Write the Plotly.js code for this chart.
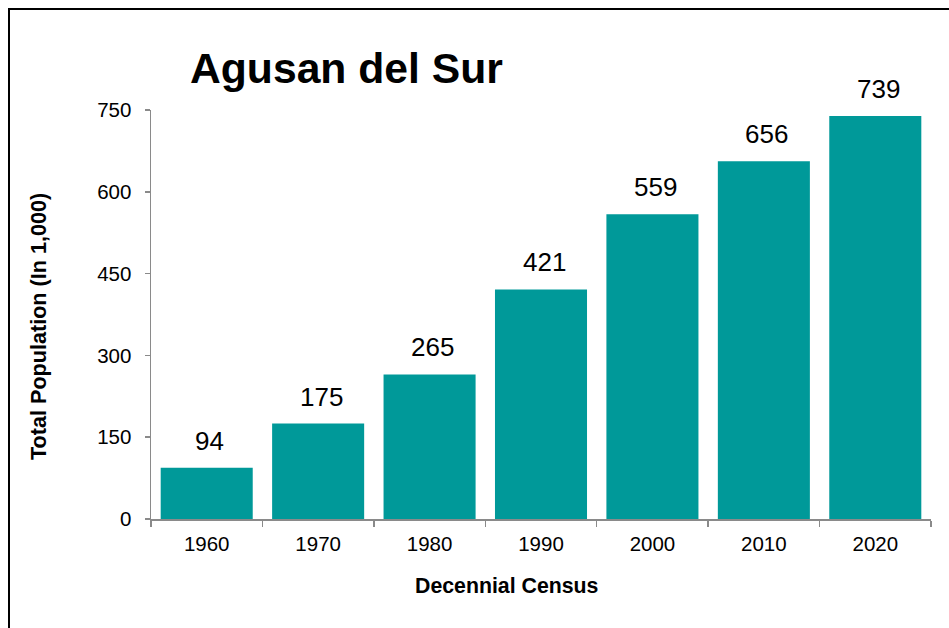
<!DOCTYPE html>
<html>
<head>
<meta charset="utf-8">
<script src="https://cdn.plot.ly/plotly-3.0.1.min.js"></script>
<style>
  html, body { margin: 0; padding: 0; background: #ffffff; }
  #wrap { position: relative; width: 949px; height: 628px; overflow: hidden; }
  #chart { position: absolute; left: 0; top: 0; width: 949px; height: 628px; }
  #frame { position: absolute; left: 8px; top: 8px; width: 1000px; height: 700px;
           border-left: 2px solid #000; border-top: 2px solid #000; pointer-events: none; }
</style>
</head>
<body>
<div id="wrap">
  <div id="chart"></div>
  <div id="frame"></div>
</div>
<script>
const chartTitle = "Agusan del Sur";
const years = ["1960", "1970", "1980", "1990", "2000", "2010", "2020"];
const population = [94, 175, 265, 421, 559, 656, 739];
const yTicks = [0, 150, 300, 450, 600, 750];
const xTitle = "Decennial Census";
const yTitle = "Total Population (In 1,000)";

const FONT = "Liberation Sans, Arial, sans-serif";
const teal = "#009999";
const axisGray = "#8a8a8a";

const trace = {
  type: "bar",
  x: years,
  y: population,
  marker: { color: teal, line: { width: 0 } },
  hoverinfo: "x+y"
};

const labels = years.map((yr, i) => ({
  x: i, y: population[i], xref: "x", yref: "y",
  text: String(population[i]),
  showarrow: false, yanchor: "bottom", yshift: 10, xshift: 3,
  font: { family: FONT, size: 26, color: "#000" }
}));

// axis titles placed as annotations (the original is not centred on the plot area)
const axisTitles = [
  {
    text: xTitle, xref: "paper", yref: "paper",
    x: (506 - 151) / 780, y: -(586 - 519) / 409,
    xanchor: "center", yanchor: "middle", showarrow: false,
    font: { family: FONT, size: 21.3, color: "#000", weight: "bold" }
  },
  {
    text: yTitle, xref: "paper", yref: "paper",
    x: (38 - 151) / 780, y: (519 - 326) / 409,
    xanchor: "center", yanchor: "middle", textangle: -90, showarrow: false,
    font: { family: FONT, size: 21.6, color: "#000", weight: "bold" }
  }
];

const layout = {
  width: 949, height: 628,
  paper_bgcolor: "#ffffff", plot_bgcolor: "#ffffff",
  margin: { l: 151, r: 18, t: 110, b: 109, pad: 0 },
  showlegend: false,
  bargap: 0.174,
  title: {
    text: chartTitle,
    font: { family: FONT, size: 42.67, color: "#000", weight: "bold" },
    xref: "container", yref: "container",
    x: 190 / 949, xanchor: "left",
    y: 1 - 68 / 628, yanchor: "middle"
  },
  xaxis: {
    type: "category",
    range: [-0.5, years.length - 0.5],
    autorange: false,
    showline: true, linecolor: axisGray, linewidth: 1.5,
    ticks: "outside", tickson: "boundaries", ticklen: 6, tickwidth: 1.5, tickcolor: axisGray,
    tickangle: 0,
    showgrid: false, zeroline: false,
    tickfont: { family: FONT, size: 20.5, color: "#000" },
    ticklabelstandoff: 6,
    fixedrange: true
  },
  yaxis: {
    range: [0, 750],
    autorange: false,
    tickvals: yTicks,
    showline: true, linecolor: axisGray, linewidth: 1.5,
    ticks: "outside", ticklen: 5, tickwidth: 1.5, tickcolor: axisGray,
    showgrid: false, zeroline: false,
    tickfont: { family: FONT, size: 20.5, color: "#000" },
    ticklabelstandoff: 9,
    fixedrange: true
  },
  annotations: labels.concat(axisTitles)
};

Plotly.newPlot("chart", [trace], layout, { displayModeBar: false, staticPlot: true });
</script>
</body>
</html>
